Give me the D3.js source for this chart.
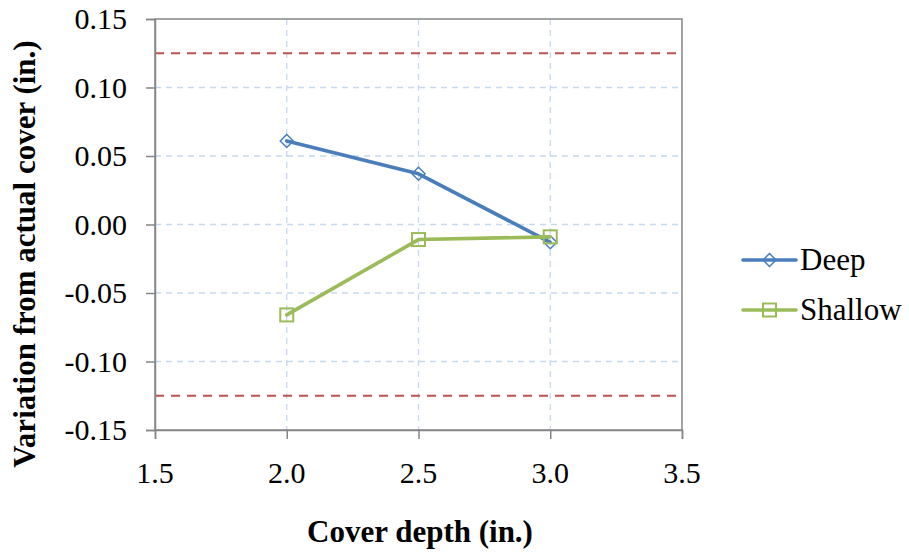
<!DOCTYPE html>
<html><head><meta charset="utf-8">
<script src="https://cdn.jsdelivr.net/npm/d3@7"></script>
<style>body{margin:0;background:#fff}svg{display:block}</style>
</head><body>
<script>
const coverDepth = [2.0, 2.5, 3.0];
const deepValues = [0.061, 0.037, -0.013];
const shallowValues = [-0.066, -0.011, -0.009];
const limitValues = [0.125, -0.125];
const xTicks = [1.5, 2.0, 2.5, 3.0, 3.5];
const yTicks = [-0.15, -0.10, -0.05, 0.00, 0.05, 0.10, 0.15];
const seriesNames = ["Deep", "Shallow"];

const W = 909, H = 554;
const m = {left: 155, top: 19, right: 682, bottom: 430};
const svg = d3.select("body").append("svg").attr("width", W).attr("height", H);
const x = d3.scaleLinear().domain([1.5, 3.5]).range([m.left, m.right]);
const y = d3.scaleLinear().domain([-0.15, 0.15]).range([m.bottom, m.top]);
const font = "'Liberation Serif','Times New Roman',serif";

// gridlines
const grid = svg.append("g");
grid.selectAll("line.h").data(yTicks.filter(v => v > -0.15 && v < 0.15)).enter().append("line")
  .attr("x1", m.left).attr("x2", m.right).attr("y1", d => y(d)).attr("y2", d => y(d))
  .attr("stroke", "#c6d9f1").attr("stroke-width", 1.3).attr("stroke-dasharray", "6,5");
grid.selectAll("line.v").data(xTicks.filter(v => v > 1.5 && v < 3.5)).enter().append("line")
  .attr("y1", m.top).attr("y2", m.bottom).attr("x1", d => x(d)).attr("x2", d => x(d))
  .attr("stroke", "#c6d9f1").attr("stroke-width", 1.3).attr("stroke-dasharray", "6,5");

// limit lines
svg.append("g").selectAll("line").data(limitValues).enter().append("line")
  .attr("x1", m.left).attr("x2", m.right).attr("y1", d => y(d)).attr("y2", d => y(d))
  .attr("stroke", "#c0504d").attr("stroke-width", 2).attr("stroke-dasharray", "9,7");

// border
svg.append("rect").attr("x", m.left).attr("y", m.top).attr("width", m.right - m.left).attr("height", m.bottom - m.top)
  .attr("fill", "none").attr("stroke", "#868686").attr("stroke-width", 1.5);

// axes (lines/ticks via d3 axis, labels drawn separately)
const yAxis = svg.append("g").attr("transform", `translate(${m.left},0)`)
  .call(d3.axisLeft(y).tickValues(yTicks).tickSize(9).tickFormat(""));
const xAxis = svg.append("g").attr("transform", `translate(0,${m.bottom})`)
  .call(d3.axisBottom(x).tickValues(xTicks).tickSize(9).tickFormat(""));
[xAxis, yAxis].forEach(a => {
  a.select(".domain").attr("stroke", "#868686").attr("stroke-width", 1.5);
  a.selectAll(".tick line").attr("stroke", "#868686").attr("stroke-width", 1.5);
});
const fmtY = d => d3.format(".2f")(d).replace("\u2212", "-").replace("-0.00", "0.00");
svg.append("g").selectAll("text").data(yTicks).enter().append("text")
  .attr("x", 127).attr("y", d => y(d) + 10).attr("text-anchor", "end")
  .attr("font-family", font).attr("font-size", 30).attr("fill", "#000").text(fmtY);
svg.append("g").selectAll("text").data(xTicks).enter().append("text")
  .attr("x", d => x(d)).attr("y", 483).attr("text-anchor", "middle")
  .attr("font-family", font).attr("font-size", 30).attr("fill", "#000").text(d3.format(".1f"));

// titles
svg.append("text").attr("x", 420).attr("y", 542).attr("text-anchor", "middle")
  .attr("font-family", font).attr("font-size", 31).attr("font-weight", "bold").text("Cover depth (in.)");
svg.append("text").attr("transform", "translate(35,254) rotate(-90)").attr("text-anchor", "middle")
  .attr("font-family", font).attr("font-size", 31).attr("font-weight", "bold").text("Variation from actual cover (in.)");

// series
const series = [
  {name: seriesNames[0], values: deepValues, color: "#4a7ebb", marker: "diamond"},
  {name: seriesNames[1], values: shallowValues, color: "#9bbb59", marker: "square"}
];
const line = d3.line().x(d => x(d[0])).y(d => y(d[1]));
function drawMarker(g, type, cx, cy, color) {
  if (type === "diamond") {
    const s = 6.5;
    g.append("path").attr("d", `M${cx},${cy - s}L${cx + s},${cy}L${cx},${cy + s}L${cx - s},${cy}Z`)
      .attr("fill", "none").attr("stroke", color).attr("stroke-width", 1.5);
  } else {
    const s = 6.5;
    g.append("rect").attr("x", cx - s).attr("y", cy - s).attr("width", 2 * s).attr("height", 2 * s)
      .attr("fill", "none").attr("stroke", color).attr("stroke-width", 2);
  }
}
series.forEach(s => {
  const pts = coverDepth.map((c, i) => [c, s.values[i]]);
  svg.append("path").attr("d", line(pts)).attr("fill", "none").attr("stroke", s.color).attr("stroke-width", 3.6)
    .attr("stroke-linejoin", "round").attr("stroke-linecap", "round");
  const g = svg.append("g");
  pts.forEach(p => drawMarker(g, s.marker, x(p[0]), y(p[1]), s.color));
});

// legend
series.forEach((s, i) => {
  const ly = 260 + i * 50;
  const g = svg.append("g");
  g.append("line").attr("x1", 743).attr("x2", 796).attr("y1", ly).attr("y2", ly)
    .attr("stroke", s.color).attr("stroke-width", 3.6).attr("stroke-linecap", "round");
  drawMarker(g, s.marker, 769.5, ly, s.color);
  g.append("text").attr("x", 800).attr("y", ly + 10).attr("font-family", font).attr("font-size", 31)
    .attr("fill", "#000").text(s.name);
});
</script>
</body></html>
